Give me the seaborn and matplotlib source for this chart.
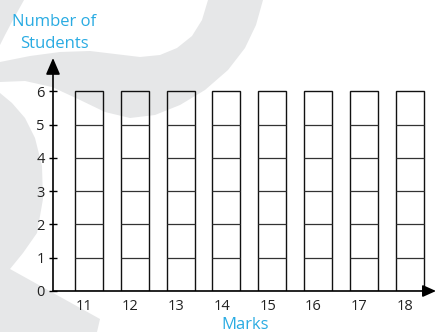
import matplotlib
matplotlib.use("Agg")
import matplotlib.pyplot as plt
import pandas as pd
import seaborn as sns
from matplotlib import transforms
from matplotlib.patches import Polygon

# ---- data ----
marks = [11, 12, 13, 14, 15, 16, 17, 18]
students = [6, 6, 6, 6, 6, 6, 6, 6]
y_ticks = [0, 1, 2, 3, 4, 5, 6]
x_title = "Marks"
y_title = "Number of\nStudents"

BLUE = "#29abe2"
GREY = "#e6e7e8"
W, H = 436, 332

sns.set_theme(style="white")
plt.rcParams["font.family"] = ["Open Sans", "DejaVu Sans"]

fig = plt.figure(figsize=(W / 100, H / 100), dpi=100)
fig.patch.set_facecolor("white")

# ---- light grey backdrop ornament (pixel coords, origin top-left) ----
px = transforms.Affine2D().scale(1 / W, -1 / H).translate(0, 1) + fig.transFigure
ring = [(263, 0), (256, 25), (245, 48), (228, 70), (205, 90), (180, 105),
        (155, 115), (130, 118), (105, 112), (78, 99), (52, 87), (25, 81),
        (0, 82),
        (0, 62), (30, 56), (60, 52), (90, 51), (115, 54), (140, 57),
        (160, 55), (177, 48), (192, 36), (202, 20), (208, 0)]
hook = [(0, 93), (12, 103), (25, 118), (35, 138), (42, 166), (43, 199),
        (37, 233), (23, 253), (10, 269), (100, 319), (97, 332), (0, 332)]
corner = [(0, 0), (24, 0), (14, 18), (5, 35), (0, 45)]
for pts in (ring, hook, corner):
    fig.add_artist(Polygon(pts, closed=True, transform=px, facecolor=GREY,
                           edgecolor="none", zorder=-5))

# ---- axes ----
ax = fig.add_axes([53 / W, (H - 291) / H, (432.5 - 53) / W, 233 / H])
ax.set_facecolor("none")

df = pd.DataFrame({"Marks": marks, "Students": students})
sns.barplot(data=df, x="Marks", y="Students", color="white", saturation=1,
            edgecolor="#111111", linewidth=1.0, width=0.61, ax=ax, zorder=2)
# outline-only bars
for patch in ax.patches:
    patch.set_facecolor("none")

# unit divisions inside every bar
for patch, value in zip(ax.patches, students):
    x0, w = patch.get_x(), patch.get_width()
    ax.hlines(list(range(1, value)), x0, x0 + w, colors="#333333",
              linewidth=0.9, zorder=3)

ax.set_xlim(-0.786, 7.5)
ax.set_ylim(0, 7)
for s in ax.spines.values():
    s.set_visible(False)

# axis lines with arrow heads
ax.annotate("", xy=(0, 1), xytext=(0, 0), xycoords="axes fraction",
            annotation_clip=False,
            arrowprops=dict(arrowstyle="-|>,head_length=1.0,head_width=0.43",
                            color="black", lw=1.2, shrinkA=0, shrinkB=0,
                            mutation_scale=10))
ax.annotate("", xy=((436 - 53) / (432.5 - 53), 0), xytext=(0, 0),
            xycoords="axes fraction", annotation_clip=False,
            arrowprops=dict(arrowstyle="-|>,head_length=0.8,head_width=0.36",
                            color="black", lw=1.2, shrinkA=0, shrinkB=0,
                            mutation_scale=10))

ax.set_yticks(y_ticks)
ax.set_yticklabels([str(t) for t in y_ticks])
ax.tick_params(axis="y", left=True, direction="inout", length=5.8, width=1.0,
               color="black", pad=2.9, labelsize=10.5, labelcolor="#222222")
ax.tick_params(axis="x", bottom=False, length=0, pad=5.5, labelsize=10.5,
               labelcolor="#222222")
shift = transforms.ScaledTranslation(-0.045, 0, fig.dpi_scale_trans)
for lbl in ax.get_xticklabels():
    lbl.set_transform(lbl.get_transform() + shift)

ax.set_xlabel(x_title, color=BLUE, fontsize=12)
ax.xaxis.set_label_coords(0.506, -0.112)
ax.set_ylabel(y_title, color=BLUE, fontsize=12, rotation=0, ha="center",
              va="center", multialignment="center", linespacing=1.45)
ax.yaxis.set_label_coords(0.003, 1.108)

fig.savefig("out.png", dpi=100, facecolor="white")
